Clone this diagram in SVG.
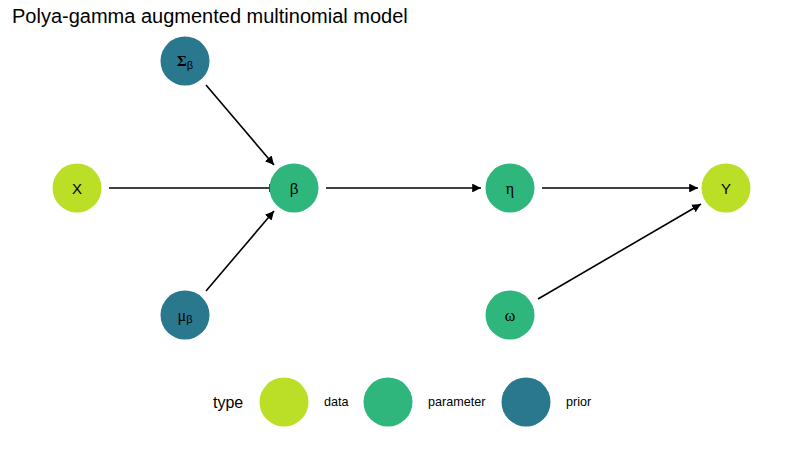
<svg xmlns="http://www.w3.org/2000/svg" width="800" height="450" viewBox="0 0 800 450">
<style>
.data{fill:#BADF26}
.param{fill:#2EB67C}
.prior{fill:#2A788E}
.lbl{font-family:"Liberation Sans",Arial,sans-serif;font-size:15px;fill:#000;text-anchor:middle;dominant-baseline:central}
.glbl{font-family:"Liberation Serif","Times New Roman",serif;font-size:16px;fill:#000;text-anchor:middle;dominant-baseline:central}
.edge{stroke:#000;stroke-width:1.6;fill:none;marker-end:url(#ah)}
.leg{font-family:"Liberation Sans",Arial,sans-serif;font-size:12.6px;fill:#000;dominant-baseline:central}
</style>
<defs>
<marker id="ah" viewBox="0 0 10 10" refX="10" refY="5" markerWidth="5.5" markerHeight="5.5" orient="auto" markerUnits="strokeWidth">
<path d="M0,0 L10,5 L0,10 z" fill="#000"/>
</marker>
</defs>
<rect width="800" height="450" fill="#fff"/>
<text x="12" y="23" font-family="'Liberation Sans',Arial,sans-serif" font-size="20" fill="#000">Polya-gamma augmented multinomial model</text>
<g id="connectors">
<line class="edge" x1="109" y1="188" x2="278" y2="188"/>
<line class="edge" x1="326" y1="188" x2="481" y2="188"/>
<line class="edge" x1="542" y1="188" x2="698" y2="188"/>
<line class="edge" x1="206" y1="85" x2="274" y2="165"/>
<line class="edge" x1="206" y1="291" x2="274" y2="211"/>
<line class="edge" x1="538" y1="299" x2="701" y2="204"/>
</g>
<g id="node-X"><circle class="data" cx="77" cy="188" r="24.5"/><text class="lbl" x="77" y="188">X</text></g>
<g id="node-beta"><circle class="param" cx="294" cy="188" r="24.5"/><text class="lbl" x="294" y="188">β</text></g>
<g id="node-eta"><circle class="param" cx="510" cy="188" r="24.5"/><text class="glbl" x="510" y="188">η</text></g>
<g id="node-Y"><circle class="data" cx="726" cy="188" r="24.5"/><text class="lbl" x="726" y="188">Y</text></g>
<g id="node-Sigma"><circle class="prior" cx="185" cy="61" r="24.5"/><text class="glbl" x="185" y="61"><tspan font-weight="bold" font-size="15">Σ</tspan><tspan font-family="'Liberation Sans',Arial,sans-serif" font-size="11" dy="4">β</tspan></text></g>
<g id="node-mu"><circle class="prior" cx="185" cy="315" r="24.5"/><text class="glbl" x="185" y="315"><tspan>μ</tspan><tspan font-family="'Liberation Sans',Arial,sans-serif" font-size="11" dy="4">β</tspan></text></g>
<g id="node-omega"><circle class="param" cx="510" cy="315" r="24.5"/><text class="glbl" x="510" y="315">ω</text></g>
<g id="legend">
<text x="213" y="402" font-family="'Liberation Sans',Arial,sans-serif" font-size="16" fill="#000" dominant-baseline="central">type</text>
<circle class="data" cx="284" cy="402" r="24.5"/>
<text class="leg" x="324" y="402">data</text>
<circle class="param" cx="388" cy="402" r="24.5"/>
<text class="leg" x="428" y="402">parameter</text>
<circle class="prior" cx="526" cy="402" r="24.5"/>
<text class="leg" x="566" y="402">prior</text>
</g>
</svg>
